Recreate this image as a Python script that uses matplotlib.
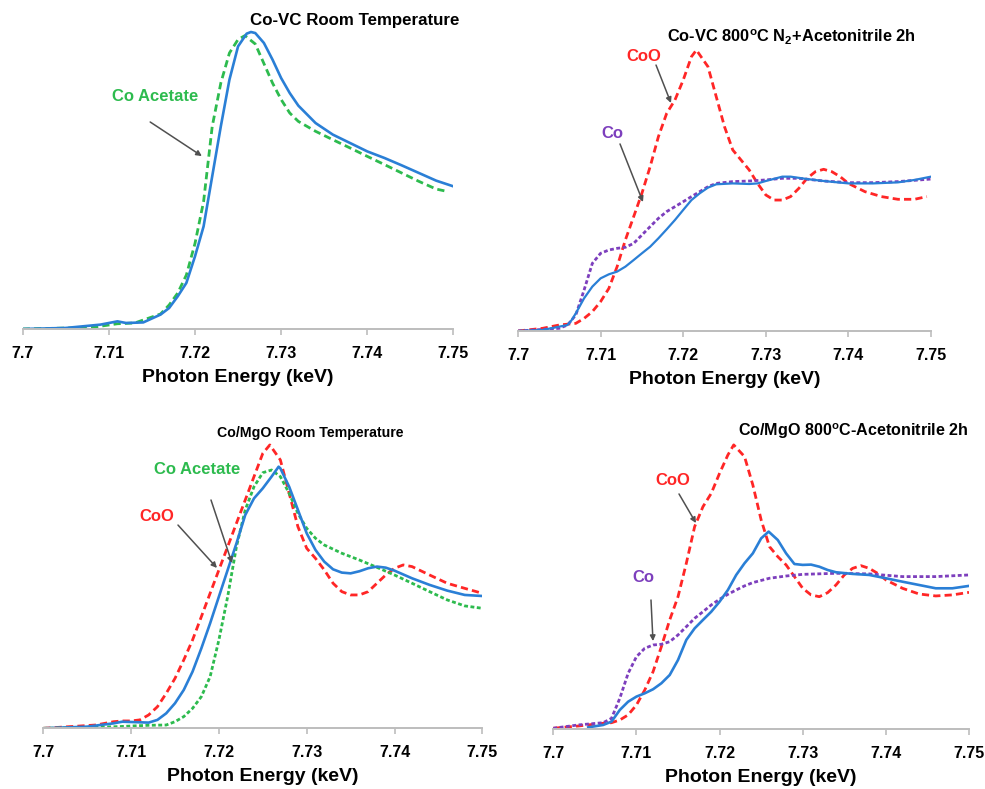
import numpy as np
import matplotlib
matplotlib.use("Agg")
import matplotlib.pyplot as plt
from matplotlib import font_manager

plt.rcParams['font.family'] = ['Liberation Sans', 'DejaVu Sans']
plt.rcParams['font.weight'] = 'bold'
plt.rcParams['mathtext.fontset'] = 'custom'
plt.rcParams['mathtext.rm'] = 'Liberation Sans:bold'
plt.rcParams['mathtext.bf'] = 'Liberation Sans:bold'
plt.rcParams['lines.solid_joinstyle'] = 'round'
plt.rcParams['lines.dash_joinstyle'] = 'round'

BLUE = "#2a7fd6"
RED = "#ff2626"
GREEN = "#2dbb4e"
PURPLE = "#7d3fbd"
ARROW = "#505050"

tick_vals = [7.70, 7.71, 7.72, 7.73, 7.74, 7.75]
tick_labels = ["7.7", "7.71", "7.72", "7.73", "7.74", "7.75"]

# ---- Co-VC room temperature
e_vc_rt = [7.700, 7.705, 7.709, 7.711, 7.712, 7.714, 7.716, 7.717, 7.718, 7.719,
           7.720, 7.721, 7.722, 7.723, 7.724, 7.725, 7.726, 7.7265, 7.727, 7.728,
           7.729, 7.730, 7.731, 7.732, 7.734, 7.736, 7.738, 7.740, 7.742, 7.744,
           7.746, 7.748, 7.750]
covc_rt = [0.0, 0.007, 0.029, 0.051, 0.040, 0.044, 0.096, 0.14, 0.218, 0.307,
           0.484, 0.684, 1.018, 1.351, 1.662, 1.884, 1.969, 1.98, 1.973, 1.907,
           1.796, 1.673, 1.573, 1.489, 1.373, 1.296, 1.24, 1.184, 1.14, 1.091,
           1.04, 0.989, 0.951]

e_acet1 = [7.700, 7.708, 7.711, 7.713, 7.716, 7.717, 7.718, 7.719, 7.720, 7.721,
           7.722, 7.723, 7.724, 7.725, 7.7258, 7.727, 7.728, 7.729, 7.730, 7.731,
           7.732, 7.734, 7.736, 7.738, 7.740, 7.742, 7.744, 7.746, 7.748, 7.7492]
acet1 = [0.0, 0.01, 0.035, 0.04, 0.10, 0.16, 0.24, 0.36, 0.57, 0.85,
         1.35, 1.64, 1.84, 1.93, 1.956, 1.90, 1.77, 1.64, 1.53, 1.44,
         1.384, 1.318, 1.262, 1.207, 1.151, 1.096, 1.04, 0.984, 0.933, 0.918]

# ---- Co-VC 800 C N2 + acetonitrile
e_vc_800 = [7.700, 7.703, 7.706, 7.7065, 7.707, 7.708, 7.709, 7.710, 7.711, 7.712,
            7.713, 7.714, 7.715, 7.716, 7.717, 7.718, 7.719, 7.720, 7.721, 7.722,
            7.723, 7.724, 7.726, 7.728, 7.729, 7.730, 7.732, 7.733, 7.735, 7.737,
            7.740, 7.743, 7.746, 7.748, 7.750]
covc_800 = [0.0, 0.007, 0.04, 0.073, 0.118, 0.218, 0.296, 0.351, 0.378, 0.396,
            0.429, 0.473, 0.518, 0.562, 0.618, 0.678, 0.74, 0.807, 0.873, 0.918,
            0.956, 0.978, 0.984, 0.98, 0.984, 1.0, 1.029, 1.029, 1.013, 1.0,
            0.984, 0.984, 0.991, 1.007, 1.029]

e_co1 = [7.700, 7.705, 7.706, 7.707, 7.708, 7.709, 7.710, 7.711, 7.712, 7.713,
         7.714, 7.715, 7.716, 7.717, 7.718, 7.719, 7.720, 7.721, 7.722, 7.723,
         7.724, 7.726, 7.728, 7.730, 7.732, 7.734, 7.737, 7.740, 7.743, 7.746,
         7.750]
co1 = [0.0, 0.018, 0.04, 0.107, 0.273, 0.451, 0.518, 0.54, 0.551, 0.558,
       0.584, 0.64, 0.696, 0.751, 0.796, 0.829, 0.862, 0.896, 0.929, 0.962,
       0.984, 0.996, 1.0, 1.007, 1.018, 1.018, 1.0, 0.989, 0.989, 0.996,
       1.013]

e_coo1 = [7.700, 7.703, 7.705, 7.707, 7.708, 7.709, 7.710, 7.711, 7.712, 7.713,
          7.714, 7.715, 7.716, 7.717, 7.718, 7.719, 7.720, 7.721, 7.7216, 7.723,
          7.724, 7.725, 7.726, 7.727, 7.728, 7.729, 7.730, 7.731, 7.732, 7.733,
          7.734, 7.735, 7.736, 7.737, 7.738, 7.739, 7.740, 7.742, 7.744, 7.746,
          7.748, 7.7495]
coo1 = [0.0, 0.018, 0.04, 0.051, 0.084, 0.129, 0.196, 0.284, 0.429, 0.607,
        0.762, 0.918, 1.096, 1.296, 1.451, 1.54, 1.673, 1.829, 1.873, 1.762,
        1.562, 1.362, 1.207, 1.14, 1.073, 0.984, 0.907, 0.873, 0.873, 0.896,
        0.951, 1.018, 1.062, 1.078, 1.062, 1.029, 0.984, 0.929, 0.896, 0.878,
        0.878, 0.896]

# ---- Co/MgO room temperature
e_mgo_rt = [7.700, 7.705, 7.708, 7.709, 7.710, 7.712, 7.713, 7.714, 7.715, 7.716,
            7.717, 7.718, 7.719, 7.720, 7.721, 7.722, 7.723, 7.724, 7.725, 7.726,
            7.7268, 7.727, 7.728, 7.729, 7.730, 7.731, 7.732, 7.733, 7.734, 7.735,
            7.736, 7.737, 7.738, 7.739, 7.740, 7.742, 7.744, 7.746, 7.748, 7.750]
comgo_rt = [0.0, 0.011, 0.033, 0.044, 0.042, 0.038, 0.056, 0.10, 0.167, 0.256,
            0.378, 0.533, 0.70, 0.878, 1.056, 1.233, 1.422, 1.533, 1.60, 1.678,
            1.744, 1.733, 1.611, 1.456, 1.30, 1.189, 1.111, 1.06, 1.038, 1.033,
            1.047, 1.067, 1.078, 1.071, 1.051, 1.0, 0.956, 0.918, 0.889, 0.882]

e_acet2 = [7.700, 7.708, 7.712, 7.714, 7.715, 7.716, 7.717, 7.718, 7.719, 7.720,
           7.721, 7.722, 7.723, 7.724, 7.725, 7.726, 7.727, 7.728, 7.729, 7.730,
           7.731, 7.732, 7.734, 7.736, 7.738, 7.740, 7.742, 7.744, 7.746, 7.748,
           7.750]
acet2 = [0.0, 0.01, 0.02, 0.022, 0.044, 0.078, 0.133, 0.211, 0.344, 0.589,
         0.878, 1.211, 1.456, 1.611, 1.704, 1.722, 1.678, 1.567, 1.433, 1.333,
         1.267, 1.222, 1.167, 1.122, 1.073, 1.022, 0.967, 0.911, 0.856, 0.816,
         0.80]

e_coo2 = [7.700, 7.706, 7.708, 7.709, 7.710, 7.711, 7.712, 7.713, 7.714, 7.715,
          7.716, 7.717, 7.718, 7.719, 7.720, 7.721, 7.722, 7.723, 7.724, 7.725,
          7.7258, 7.727, 7.728, 7.729, 7.730, 7.731, 7.732, 7.733, 7.734, 7.735,
          7.736, 7.737, 7.738, 7.739, 7.740, 7.741, 7.742, 7.744, 7.746, 7.748,
          7.750]
coo2 = [0.0, 0.022, 0.044, 0.049, 0.049, 0.056, 0.089, 0.144, 0.233, 0.333,
        0.456, 0.589, 0.744, 0.90, 1.056, 1.211, 1.367, 1.522, 1.678, 1.833,
        1.889, 1.789, 1.567, 1.344, 1.20, 1.133, 1.056, 0.967, 0.911, 0.889,
        0.889, 0.911, 0.967, 1.022, 1.067, 1.089, 1.078, 1.022, 0.967, 0.933,
        0.90]

# ---- Co/MgO 800 C acetonitrile
e_mgo_800 = [7.7042, 7.706, 7.707, 7.708, 7.709, 7.710, 7.711, 7.712, 7.713, 7.714,
             7.715, 7.716, 7.717, 7.718, 7.719, 7.720, 7.721, 7.722, 7.723, 7.724,
             7.725, 7.7259, 7.727, 7.728, 7.729, 7.730, 7.731, 7.732, 7.733, 7.734,
             7.736, 7.738, 7.740, 7.742, 7.744, 7.746, 7.748, 7.750]
comgo_800 = [0.013, 0.029, 0.051, 0.129, 0.184, 0.218, 0.24, 0.267, 0.307, 0.362,
             0.462, 0.596, 0.673, 0.729, 0.784, 0.851, 0.929, 1.029, 1.107, 1.173,
             1.273, 1.318, 1.262, 1.173, 1.102, 1.096, 1.098, 1.084, 1.062, 1.047,
             1.036, 1.029, 1.007, 0.984, 0.962, 0.94, 0.94, 0.956]

e_co2 = [7.700, 7.703, 7.706, 7.707, 7.708, 7.709, 7.710, 7.711, 7.712, 7.713,
         7.714, 7.715, 7.716, 7.717, 7.718, 7.719, 7.720, 7.721, 7.722, 7.723,
         7.724, 7.726, 7.728, 7.730, 7.734, 7.738, 7.742, 7.746, 7.750]
co2 = [0.007, 0.029, 0.044, 0.073, 0.207, 0.373, 0.484, 0.54, 0.562, 0.567,
       0.584, 0.629, 0.684, 0.74, 0.784, 0.829, 0.867, 0.90, 0.929, 0.956,
       0.978, 1.007, 1.022, 1.033, 1.04, 1.036, 1.018, 1.018, 1.029]

e_coo3 = [7.700, 7.703, 7.706, 7.707, 7.708, 7.709, 7.710, 7.711, 7.712, 7.713,
          7.714, 7.715, 7.716, 7.717, 7.718, 7.719, 7.720, 7.721, 7.7217, 7.723,
          7.724, 7.725, 7.726, 7.727, 7.728, 7.729, 7.730, 7.731, 7.732, 7.733,
          7.734, 7.735, 7.736, 7.737, 7.738, 7.739, 7.740, 7.742, 7.744, 7.746,
          7.748, 7.750]
coo3 = [0.007, 0.022, 0.04, 0.044, 0.062, 0.096, 0.162, 0.262, 0.384, 0.551,
        0.729, 0.884, 1.107, 1.351, 1.484, 1.573, 1.707, 1.829, 1.896, 1.818,
        1.629, 1.396, 1.218, 1.151, 1.096, 1.018, 0.94, 0.896, 0.884, 0.911,
        0.962, 1.029, 1.073, 1.091, 1.073, 1.04, 0.996, 0.94, 0.902, 0.889,
        0.896, 0.913]

# narrow face for the Co/MgO room temperature title, if it is around
installed = {f.name for f in font_manager.fontManager.ttflist}
if "Liberation Sans Narrow" in installed:
    narrow_family, narrow_size = ["Liberation Sans Narrow"], 12.4
else:
    narrow_family, narrow_size = ["Liberation Sans"], 10.2

W, H = 985, 789
fig = plt.figure(figsize=(W / 100, H / 100), dpi=100)


def make_ax(left, bottom, width):
    # left / bottom(axis line) / width given in pixels
    ax = fig.add_axes([left / W, 1 - bottom / H, width / W, 309 / H])
    ax.set_xlim(7.70, 7.75)
    ax.set_ylim(0, 2.06)
    for s in ["top", "right", "left"]:
        ax.spines[s].set_visible(False)
    ax.spines["bottom"].set_color("#bdbdbd")
    ax.spines["bottom"].set_linewidth(1.4)
    ax.set_yticks([])
    ax.set_xticks(tick_vals)
    ax.set_xticklabels(tick_labels, fontsize=11.5, fontweight="bold")
    ax.tick_params(axis="x", direction="out", length=4, width=1.2,
                   color="#bdbdbd", pad=8)
    ax.set_xlabel("Photon Energy (keV)", fontsize=14, fontweight="bold",
                  labelpad=6)
    return ax


def label(ax, text, color, xy_text, tail, tip):
    ax.text(xy_text[0], xy_text[1], text, color=color, fontsize=12,
            fontweight="bold", ha="center", va="center")
    ax.annotate("", xy=tip, xytext=tail,
                arrowprops=dict(arrowstyle="-|>", color=ARROW, lw=1.1,
                                mutation_scale=8, shrinkA=0, shrinkB=0))


long_dash = (0, (2.6, 1.5))
short_dash = (0, (1.4, 0.9))

# top left
ax1 = make_ax(22.7, 329, 430.7)
ax1.plot(e_acet1, acet1, color=GREEN, lw=2.0, ls=long_dash)
ax1.plot(e_vc_rt, covc_rt, color=BLUE, lw=1.9)
ax1.text(0.77, 1.0, "Co-VC Room Temperature", transform=ax1.transAxes,
         fontsize=12.2, fontweight="bold", ha="center", va="center")
label(ax1, "Co Acetate", GREEN, (7.7154, 1.547), (7.7148, 1.38), (7.7208, 1.153))

# top right
ax2 = make_ax(518, 331, 413)
ax2.plot(e_coo1, coo1, color=RED, lw=2.0, ls=long_dash)
ax2.plot(e_co1, co1, color=PURPLE, lw=2.0, ls=short_dash)
ax2.plot(e_vc_800, covc_800, color=BLUE, lw=1.6)
ax2.text(0.662, 0.949, r"Co-VC 800$^{\rm o}$C N$_{\rm 2}$+Acetonitrile 2h",
         transform=ax2.transAxes, fontsize=11.8, fontweight="bold",
         ha="center", va="center")
label(ax2, "CoO", RED, (7.71525, 1.827), (7.71671, 1.773), (7.71852, 1.52))
label(ax2, "Co", PURPLE, (7.71138, 1.32), (7.71235, 1.247), (7.71513, 0.86))

# bottom left
ax3 = make_ax(43.3, 728.3, 439)
ax3.plot(e_coo2, coo2, color=RED, lw=2.0, ls=long_dash)
ax3.plot(e_acet2, acet2, color=GREEN, lw=2.0, ls=short_dash)
ax3.plot(e_mgo_rt, comgo_rt, color=BLUE, lw=1.9)
ax3.text((310 - 43.3) / 439, (728.3 - 433) / 309, "Co/MgO Room Temperature",
         transform=ax3.transAxes, fontsize=narrow_size, fontweight="bold",
         family=narrow_family, ha="center", va="center")
label(ax3, "Co Acetate", GREEN, (7.7175, 1.722), (7.7191, 1.522), (7.72149, 1.102))
label(ax3, "CoO", RED, (7.71296, 1.409), (7.71534, 1.355), (7.71978, 1.069))

# bottom right
ax4 = make_ax(553.3, 729.3, 415.7)
ax4.plot(e_coo3, coo3, color=RED, lw=2.0, ls=long_dash)
ax4.plot(e_co2, co2, color=PURPLE, lw=2.0, ls=short_dash)
ax4.plot(e_mgo_800, comgo_800, color=BLUE, lw=1.9)
ax4.text((853 - 553.3) / 415.7, (729.3 - 431) / 309,
         r"Co/MgO 800$^{\rm o}$C-Acetonitrile 2h", transform=ax4.transAxes,
         fontsize=11.6, fontweight="bold", ha="center", va="center")
label(ax4, "CoO", RED, (7.7144, 1.661), (7.71512, 1.569), (7.71716, 1.375))
label(ax4, "Co", PURPLE, (7.71079, 1.015), (7.71175, 0.862), (7.71199, 0.588))

fig.savefig("out.png", dpi=100)
